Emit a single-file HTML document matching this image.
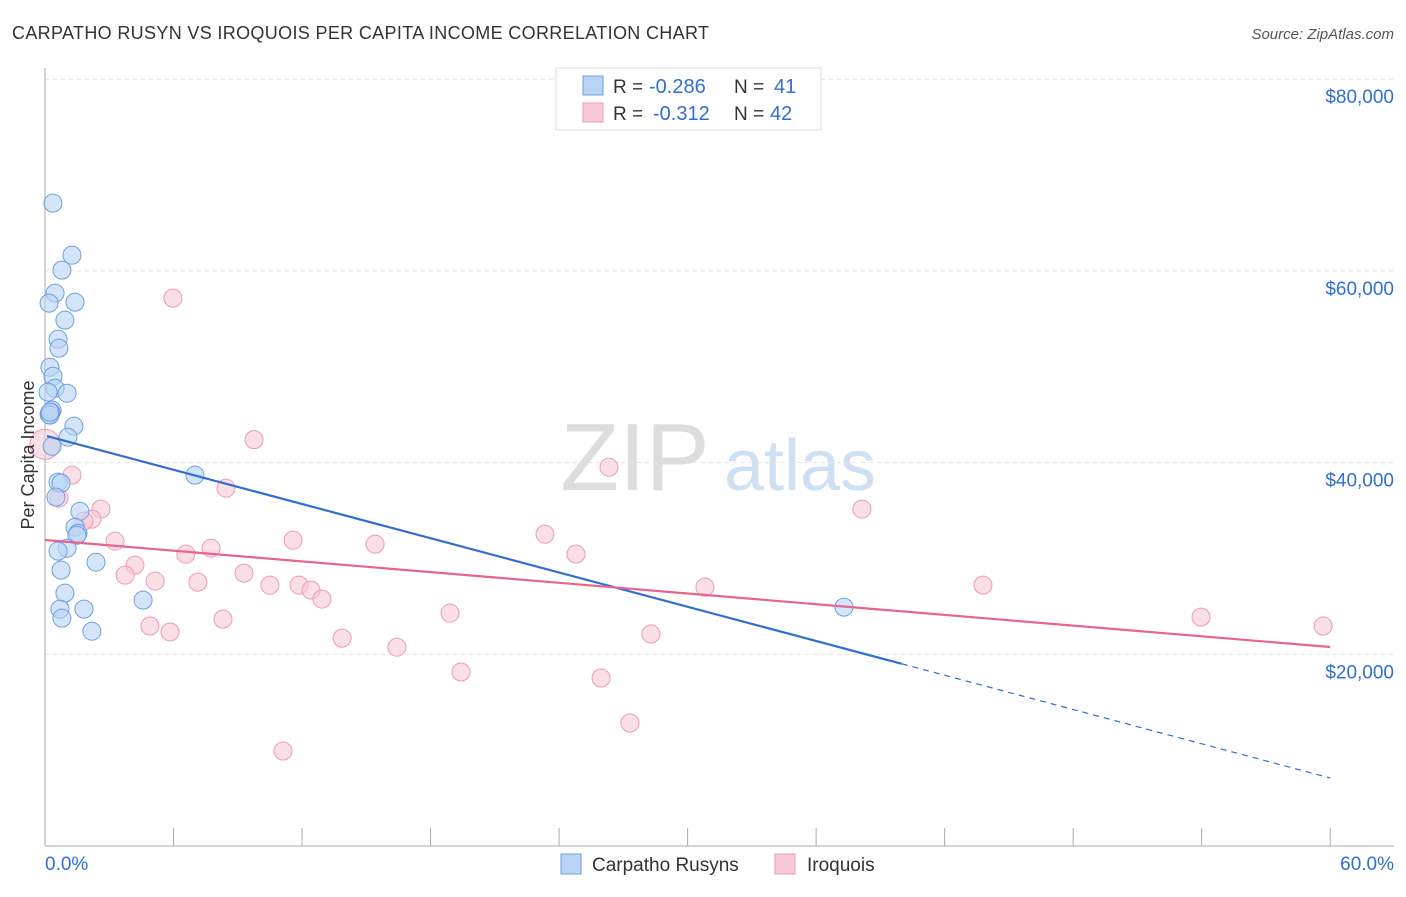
<!DOCTYPE html>
<html><head><meta charset="utf-8"><style>
body{margin:0;background:#fff;font-family:"Liberation Sans",sans-serif}
svg text{font-family:"Liberation Sans",sans-serif}
</style></head><body>
<svg id="chart" width="1406" height="892" xmlns="http://www.w3.org/2000/svg">
<text x="12" y="39" font-size="18" fill="#333" textLength="697">CARPATHO RUSYN VS IROQUOIS PER CAPITA INCOME CORRELATION CHART</text>
<text x="1394" y="39" font-size="15" fill="#555" font-style="italic" text-anchor="end">Source: ZipAtlas.com</text>
<text x="635" y="490" font-size="96" fill="#ddd" font-family="Liberation Serif" text-anchor="middle">ZIP</text>
<text x="800" y="490" font-size="72" fill="#cfe0f5" text-anchor="middle">atlas</text>
<g id="grid"></g><g id="axes"></g><g id="marks"></g>
<g>
<rect x="556" y="68" width="265" height="62" fill="#fff" stroke="#ddd"/>
<rect x="583" y="76" width="20" height="19" fill="#b9d3f5" stroke="#6d9fe0"/>
<rect x="583" y="103" width="20" height="19" fill="#f9c9d7" stroke="#ee9ab3"/>
<text x="613" y="93" font-size="19" fill="#333">R =</text>
<text x="649" y="93" font-size="20" fill="#2f6fd3">-0.286</text>
<text x="734" y="93" font-size="19" fill="#333">N =</text>
<text x="774" y="93" font-size="20" fill="#2f6fd3">41</text>
<text x="613" y="120" font-size="19" fill="#333">R =</text>
<text x="653" y="120" font-size="20" fill="#2f6fd3">-0.312</text>
<text x="734" y="120" font-size="19" fill="#333">N =</text>
<text x="770" y="120" font-size="20" fill="#2f6fd3">42</text>
</g>
<g>
<rect x="561" y="854" width="20" height="20" fill="#b9d3f5" stroke="#6d9fe0"/>
<text x="592" y="871" font-size="19" fill="#333">Carpatho Rusyns</text>
<rect x="775" y="854" width="20" height="20" fill="#f9c9d7" stroke="#ee9ab3"/>
<text x="807" y="871" font-size="19" fill="#333">Iroquois</text>
</g>
<text x="34" y="455" font-size="18" fill="#333" transform="rotate(-90 34 455)" text-anchor="middle">Per Capita Income</text>
</svg>
<script>
const yTicks=[20000,40000,60000,80000];
const yTickLabels=["$20,000","$40,000","$60,000","$80,000"];
const blueX=[0.37,1.26,0.79,0.47,0.19,1.4,0.93,0.61,0.65,0.23,0.37,0.47,0.14,1.03,0.33,0.19,0.28,1.35,1.07,0.23,0.23,0.61,0.75,0.51,1.63,1.4,1.54,1.49,1.03,0.61,0.75,2.38,7.0,0.93,1.82,0.7,0.79,2.19,4.58,37.3,0.33];
const blueY=[67070,61640,60080,57680,56640,56740,54860,52880,51940,49950,49010,47760,47350,47240,45470,45050,45260,43800,42650,44950,45260,37960,37860,36400,34930,33260,32630,32420,31070,30760,28780,29610,38690,26380,24710,24710,23770,22410,25650,24920,41700];
const pinkX=[0,5.97,9.76,1.26,0.65,2.61,2.19,1.82,8.45,26.33,38.14,3.27,6.58,7.75,11.58,15.41,23.34,24.79,4.2,3.74,5.14,7.14,9.29,10.5,11.86,12.42,12.93,30.81,43.79,4.9,5.84,8.31,13.87,16.43,18.91,28.29,53.97,59.67,19.42,25.96,27.31,11.11];
const pinkY=[41910,57160,42400,38690,36300,35150,34100,33890,37330,39520,35150,31800,30450,31070,31910,31490,32530,30450,29300,28260,27640,27530,28470,27220,27220,26700,25760,27010,27220,22950,22330,23670,21690,20740,24290,22120,23880,22950,18150,17530,12830,9910];
const blueLine=[0.09,42775,40,19000,60,7094];
const pinkLine=[0,31925,60,20761];
const X=v=>45+v*21.42, Y=v=>846-v*191.7/20000;
const NS="http://www.w3.org/2000/svg";
function mk(t,a,p){const e=document.createElementNS(NS,t);for(const k in a)e.setAttribute(k,a[k]);p.appendChild(e);return e;}
const grid=document.getElementById('grid'),axes=document.getElementById('axes'),marks=document.getElementById('marks');
yTicks.forEach((v,i)=>{
 const l=mk('line',{x1:45,x2:1394,y1:Y(v),y2:Y(v),stroke:'#e2e2e2','stroke-dasharray':'4 4'},grid);
 
 
 const t=mk('text',{x:1394,y:Y(v)+24,'font-size':19,fill:'#2f6fd3','text-anchor':'end'},axes);
 t.textContent=yTickLabels[i];
 
 
});
mk('line',{x1:45,x2:45,y1:68,y2:846,stroke:'#aaa'},axes);
mk('line',{x1:45,x2:1394,y1:846,y2:846,stroke:'#aaa'},axes);
for(let i=1;i<=10;i++){mk('line',{x1:X(i*6),x2:X(i*6),y1:828,y2:846,stroke:'#aaa'},axes);}
let t=mk('text',{x:45,y:870,'font-size':19,fill:'#2f6fd3'},axes);t.textContent='0.0%';


t=mk('text',{x:1394,y:870,'font-size':19,fill:'#2f6fd3','text-anchor':'end'},axes);t.textContent='60.0%';


pinkX.forEach((x,i)=>{const c=mk('circle',{cx:X(x),cy:Y(pinkY[i]),r:i==0?15:9,fill:'#f9c9d7','fill-opacity':0.6,stroke:'#ee9ab3'},marks);
 
 });
blueX.forEach((x,i)=>{const c=mk('circle',{cx:X(x),cy:Y(blueY[i]),r:9,fill:'#b9d3f5','fill-opacity':0.6,stroke:'#6d9fe0'},marks);
 
 });
const bx2=blueLine[2],by2=blueLine[1]+(blueLine[5]-blueLine[1])*(bx2-blueLine[0])/(blueLine[4]-blueLine[0]);
let l=mk('line',{x1:X(blueLine[0]),y1:Y(blueLine[1]),x2:X(bx2),y2:Y(by2),stroke:'#2f6fd3','stroke-width':2.2},marks);


l=mk('line',{x1:X(bx2),y1:Y(by2),x2:X(blueLine[4]),y2:Y(blueLine[5]),stroke:'#2f6fd3','stroke-width':1.2,'stroke-dasharray':'6 5'},marks);


l=mk('line',{x1:X(pinkLine[0]),y1:Y(pinkLine[1]),x2:X(pinkLine[2]),y2:Y(pinkLine[3]),stroke:'#e8638e','stroke-width':2.2},marks);


</script>
</body></html>
